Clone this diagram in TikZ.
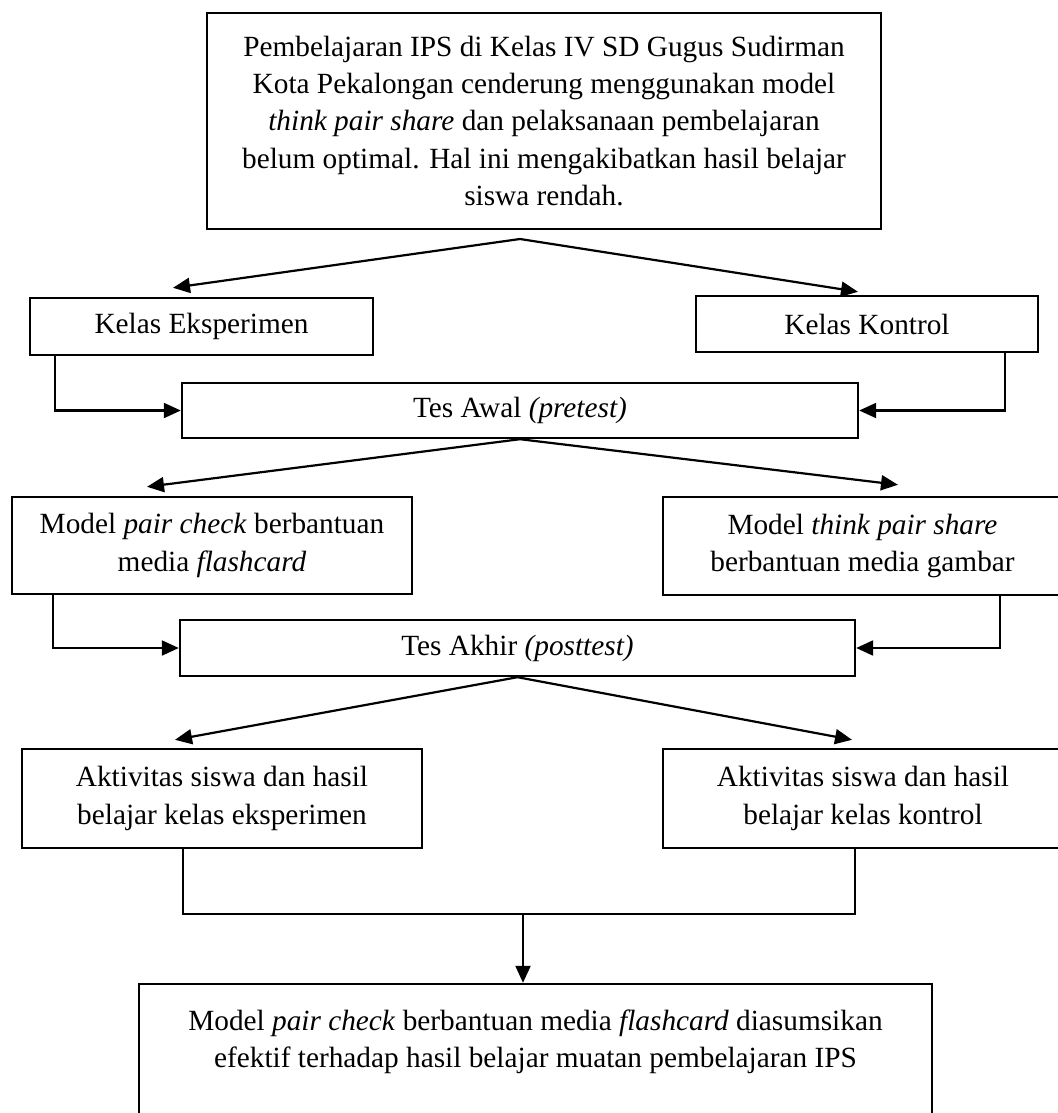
\documentclass[tikz,border=0pt]{standalone}
\usepackage{fontspec}
\setmainfont{Liberation Serif}
\usepackage{tikz}
\usetikzlibrary{positioning, arrows.meta, calc, fit}

\begin{document}
\begin{tikzpicture}[x=0.5pt, y=-0.5pt,
    kotak/.style={draw, line width=1.2pt, inner sep=0pt, align=center,
                  font=\fontsize{14.65pt}{18.7pt}\selectfont},
    panah/.style={line width=1.1pt, -{Triangle[length=8.5pt, width=7.5pt]}},
    garis/.style={line width=1.1pt}]
  \useasboundingbox (0,0) rectangle (1058,1113);

  % masalah
  \node[kotak, minimum width=337pt, minimum height=108pt] (masalah) at (544,121) {%
    Pembelajaran IPS di Kelas IV SD Gugus Sudirman\\
    Kota Pekalongan cenderung menggunakan model\\
    \textit{think pair share} dan pelaksanaan pembelajaran\\
    belum optimal. Hal ini mengakibatkan hasil belajar\\
    siswa rendah.};

  % kelas
  \node[kotak, minimum width=171.5pt, minimum height=28.5pt] (kE) at (201.5,326.5) {Kelas Eksperimen};
  \node[kotak, minimum width=171pt, minimum height=28pt] (kK) at (867,324) {Kelas Kontrol};

  % tes awal
  \node[kotak, minimum width=338pt, minimum height=27.5pt] (pre) at (520,410.5) {Tes Awal \textit{(pretest)}};

  % perlakuan
  \node[kotak, minimum width=200pt, minimum height=48.5pt] (mPC) at (212,545.5) {%
    Model \textit{pair check} berbantuan\\ media \textit{flashcard}};
  \node[kotak, minimum width=199.5pt, minimum height=49pt] (mTPS) at (862.5,546) {%
    Model \textit{think pair share}\\ berbantuan media gambar};

  % tes akhir
  \node[kotak, minimum width=337.5pt, minimum height=28pt] (post) at (517.5,648) {Tes Akhir \textit{(posttest)}};

  % hasil
  \node[kotak, minimum width=200pt, minimum height=49.5pt] (aE) at (222,798.5) {%
    Aktivitas siswa dan hasil\\ belajar kelas eksperimen};
  \node[kotak, minimum width=200pt, minimum height=49.5pt] (aK) at (863,798.5) {%
    Aktivitas siswa dan hasil\\ belajar kelas kontrol};

  % kesimpulan
  \node[align=center, inner sep=0pt, font=\fontsize{14.65pt}{18.7pt}\selectfont] (kesimpulan) at (535.5,1042) {%
    Model \textit{pair check} berbantuan media \textit{flashcard} diasumsikan\\
    efektif terhadap hasil belajar muatan pembelajaran IPS};
  \node[draw, line width=1.2pt, inner sep=0pt, fit={(139,984) (932,1130)}] (bingkai) {};

  % panah
  \coordinate (cabang1) at (520,239);
  \draw[panah] (cabang1) -- ($(kE.north)+(-28.5,-9)$);
  \draw[panah] (cabang1) -- ($(kK.north)+(-9,-3)$);

  \draw[panah] ($(kE.south)+(-146.5,0)$) |- (pre.west);
  \draw[panah] ($(kK.south)+(138,0)$) |- (pre.east);

  \draw[panah] (pre.south) -- ($(mPC.north)+(-65,-9)$);
  \draw[panah] (pre.south) -- ($(mTPS.north)+(35.5,-11)$);

  \draw[panah] ($(mPC.south)+(-159,0)$) |- (post.west);
  \draw[panah] ($(mTPS.south)+(137.5,0)$) |- (post.east);

  \draw[panah] (post.south) -- ($(aE.north)+(-47,-8)$);
  \draw[panah] (post.south) -- ($(aK.north)+(-11,-8)$);

  \draw[garis] ($(aE.south)+(-39,0)$) -- ++(0,65) -| ($(aK.south)+(-8,0)$);
  \coordinate (gabung) at (523,913);
  \draw[panah] (gabung) -- (gabung |- bingkai.north);
\end{tikzpicture}
\end{document}
